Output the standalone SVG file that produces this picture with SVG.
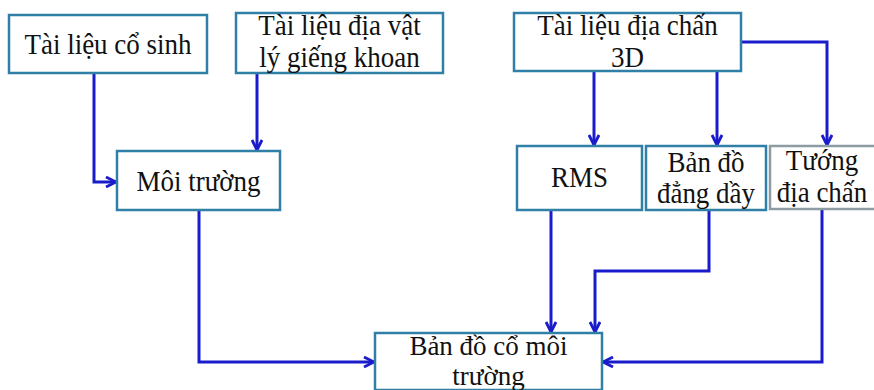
<svg xmlns="http://www.w3.org/2000/svg" width="874" height="390" viewBox="0 0 874 390">
<style>
.box{fill:#fff;stroke:#2f7fa6;stroke-width:2.5}
.gbox{fill:#fff;stroke:#8c9ca2;stroke-width:2.5}
.c{fill:none;stroke:#1a1ccc;stroke-width:3;stroke-linejoin:miter}
</style>
<defs>
<marker id="ah" viewBox="0 0 12 12" refX="11" refY="6" markerWidth="12" markerHeight="12" markerUnits="userSpaceOnUse" orient="auto">
<path d="M1,1 L11,6 L1,11" fill="none" stroke="#1a1ccc" stroke-width="2.8"/>
</marker>
</defs>
<rect width="874" height="390" fill="#fff"/>
<g id="connectors">
<path class="c" d="M94,73 V182 H116" marker-end="url(#ah)"/>
<path class="c" d="M257,73 V150" marker-end="url(#ah)"/>
<path class="c" d="M594,71 V145" marker-end="url(#ah)"/>
<path class="c" d="M717,71 V145" marker-end="url(#ah)"/>
<path class="c" d="M741,42 H827 V145" marker-end="url(#ah)"/>
<path class="c" d="M199,210 V362 H374" marker-end="url(#ah)"/>
<path class="c" d="M551,210 V332" marker-end="url(#ah)"/>
<path class="c" d="M709,210 V271 H595 V332" marker-end="url(#ah)"/>
<path class="c" d="M822,210 V362 H603" marker-end="url(#ah)"/>
</g>
<g font-size="27" fill="#111" text-anchor="middle">
<g id="n-cosinh">
<rect class="box" x="9" y="15" width="198" height="58"/>
<text transform="translate(108,54) scale(1,1.12)" font-family="Liberation Serif">Tài liệu cổ sinh</text>
</g>
<g id="n-diavatly">
<rect class="box" x="236" y="13" width="207" height="60"/>
<text transform="translate(339.5,35) scale(1,1.12)" font-family="Liberation Serif">Tài liệu địa vật</text>
<text transform="translate(339.5,67) scale(1,1.12)" font-family="Liberation Serif">lý giếng khoan</text>
</g>
<g id="n-moitruong">
<rect class="box" x="117" y="151" width="163" height="59"/>
<text transform="translate(198.5,191) scale(1,1.12)" font-family="Liberation Serif">Môi trường</text>
</g>
<g id="n-diachan3d">
<rect class="box" x="514" y="13" width="227" height="58"/>
<text transform="translate(627.5,35) scale(1,1.12)" font-family="Liberation Serif">Tài liệu địa chấn</text>
<text transform="translate(627.5,67) scale(1,1.12)" font-family="Liberation Serif">3D</text>
</g>
<g id="n-rms">
<rect class="box" x="517" y="146" width="125" height="64"/>
<text transform="translate(579.5,187) scale(1,1.12)" font-family="Liberation Serif">RMS</text>
</g>
<g id="n-dangday">
<rect class="box" x="646" y="146" width="120" height="64"/>
<text transform="translate(706,172) scale(1,1.12)" font-family="Liberation Serif">Bản đồ</text>
<text transform="translate(706,203) scale(1,1.12)" font-family="Liberation Serif">đẳng dầy</text>
</g>
<g id="n-tuong">
<rect class="gbox" x="770" y="146" width="110" height="63"/>
<text transform="translate(822,170) scale(1,1.12)" font-family="Liberation Serif">Tướng</text>
<text transform="translate(822,202) scale(1,1.12)" font-family="Liberation Serif">địa chấn</text>
</g>
<g id="n-bando">
<rect class="box" x="375" y="333" width="227" height="57"/>
<text x="488.5" y="355" font-family="Liberation Serif">Bản đồ cổ môi</text>
<text x="488.5" y="385" font-family="Liberation Serif">trường</text>
</g>
</g>
</svg>
